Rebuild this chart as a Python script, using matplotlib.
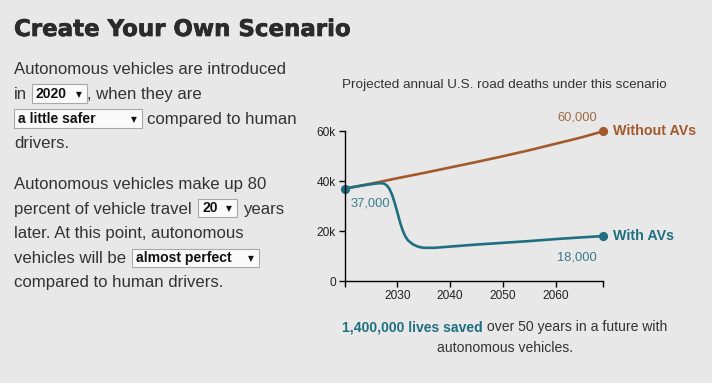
import matplotlib
matplotlib.use('Agg')
import matplotlib.pyplot as plt
from matplotlib.patches import Rectangle
import matplotlib.patheffects as pe

# ---------------- data ----------------
years_without = [2020, 2025, 2030, 2035, 2040, 2045, 2050, 2055, 2060, 2065, 2069]
without_avs = [37000, 39000, 41200, 43300, 45500, 47700, 50000, 52400, 55000, 57600, 60000]

years_with = [2020, 2022, 2024, 2026, 2027, 2027.5, 2028, 2028.5, 2029, 2029.5, 2030,
              2030.5, 2031, 2031.5, 2032, 2033, 2034, 2035, 2037, 2040, 2045, 2050,
              2055, 2060, 2065, 2069]
with_avs = [37000, 37800, 38500, 39100, 39200, 39000, 38300, 36900, 34500, 31200, 27400,
            23500, 20300, 17900, 16300, 14600, 13700, 13300, 13300, 13800, 14600, 15300,
            16000, 16800, 17500, 18000]

y_ticks = [0, 20000, 40000, 60000]
y_tick_labels = ['0', '20k', '40k', '60k']
x_ticks = [2030, 2040, 2050, 2060]
x_range = [2020, 2069]
start_label = '37,000'
end_without_label = '60,000'
end_with_label = '18,000'
lives_saved = '1,400,000 lives saved'

BROWN = '#a35a2c'
TEAL = '#1e6f80'
TXT = '#333333'
BG = '#e8e8e8'

W, H = 712, 383
fig = plt.figure(figsize=(W / 100, H / 100), dpi=100)
fig.patch.set_facecolor(BG)
BODY = 'Liberation Sans'


def fx(x):
    return x / W


def fy(y):
    return 1 - y / H


# ---------------- title ----------------
fig.text(fx(14), fy(36), 'Create Your Own Scenario', family='DejaVu Sans',
         weight='bold', fontsize=16.5, color='#2b2b2b', va='baseline', ha='left',
         path_effects=[pe.withStroke(linewidth=0.5, foreground='#2b2b2b')])

# ---------------- paragraph text ----------------
fs = 12.1


def t(x, y, s, **kw):
    return fig.text(fx(x), fy(y), s, family=BODY, fontsize=fs, color=TXT,
                    va='baseline', ha='left', **kw)


def dropdown(x0, x1, y0, y1, label, base):
    fig.patches.append(Rectangle((fx(x0), fy(y1)), (x1 - x0) / W, (y1 - y0) / H,
                                 transform=fig.transFigure, facecolor='#fafafa',
                                 edgecolor='#a9a9a9', linewidth=0.8))
    fig.text(fx(x0 + 4), fy(base), label, family=BODY, weight='bold', fontsize=10.1,
             color='#111111', va='baseline', ha='left')
    fig.text(fx(x1 - 8), fy(base - 1), '\u25BC', family='DejaVu Sans', fontsize=5.5,
             color='#111111', va='baseline', ha='center')


t(14, 74, 'Autonomous vehicles are introduced')
t(14, 99, 'in')
dropdown(32, 87, 84, 103, '2020', 98)
t(87, 99, ', when they are')
dropdown(14, 142, 109, 128, 'a little safer', 123)
t(147, 124, 'compared to human')
t(14, 148, 'drivers.')

t(14, 189, 'Autonomous vehicles make up 80')
t(14, 214, 'percent of vehicle travel')
dropdown(198, 237, 199, 217, '20', 212)
t(243, 214, 'years')
t(14, 238, 'later. At this point, autonomous')
t(14, 263, 'vehicles will be')
dropdown(132, 259, 249, 267, 'almost perfect', 262)
t(14, 287, 'compared to human drivers.')

# ---------------- chart ----------------
fig.text(fx(504), fy(88), 'Projected annual U.S. road deaths under this scenario',
         family=BODY, fontsize=9.7, color=TXT, ha='center', va='baseline')

ax = fig.add_axes([fx(344.7), fy(281), (603 - 344.7) / W, (281 - 131.3) / H])
ax.patch.set_alpha(0)
ax.set_xlim(*x_range)
ax.set_ylim(0, 60000)
for s in ['top', 'right']:
    ax.spines[s].set_visible(False)
for s in ['left', 'bottom']:
    ax.spines[s].set_linewidth(1.0)
    ax.spines[s].set_color('black')

ax.set_yticks(y_ticks)
ax.set_yticklabels(y_tick_labels)
ax.set_xticks(x_ticks)
ax.set_xticklabels([str(v) for v in x_ticks])
ax.set_xticks(x_range, minor=True)
ax.tick_params(which='both', direction='out', length=4.3, width=1.0, color='black',
               labelsize=8.6, labelcolor='#222222', pad=2)
for lab in ax.get_xticklabels() + ax.get_yticklabels():
    lab.set_family(BODY)

ax.plot(years_without, without_avs, color=BROWN, lw=1.9, clip_on=False,
        solid_capstyle='round')
ax.plot(years_with, with_avs, color=TEAL, lw=1.9, clip_on=False,
        solid_capstyle='round', solid_joinstyle='round')
ax.plot([years_without[-1]], [without_avs[-1]], 'o', color=BROWN, ms=5.6, clip_on=False)
ax.plot([years_with[-1]], [with_avs[-1]], 'o', color=TEAL, ms=5.6, clip_on=False)
ax.plot([years_with[0]], [with_avs[0]], 'o', color=TEAL, ms=5.6, clip_on=False)

lab_fs = 9.3
ax.annotate(end_without_label, (years_without[-1], without_avs[-1]),
            xytext=(-6, 14), textcoords='offset pixels', ha='right', va='center',
            fontsize=lab_fs, family=BODY, color='#a06a45')
ax.annotate('Without AVs', (years_without[-1], without_avs[-1]),
            xytext=(10, 0), textcoords='offset pixels', ha='left', va='center',
            fontsize=10.3, family=BODY, weight='bold', color=BROWN)
ax.annotate('With AVs', (years_with[-1], with_avs[-1]),
            xytext=(10, 0), textcoords='offset pixels', ha='left', va='center',
            fontsize=10.3, family=BODY, weight='bold', color=TEAL)
ax.annotate(end_with_label, (years_with[-1], with_avs[-1]),
            xytext=(-6, -21), textcoords='offset pixels', ha='right', va='center',
            fontsize=lab_fs, family=BODY, color='#3b7b8a')
ax.annotate(start_label, (years_with[0], with_avs[0]),
            xytext=(6, -15), textcoords='offset pixels', ha='left', va='center',
            fontsize=lab_fs, family=BODY, color='#3b7b8a')

# ---------------- footer ----------------
fig.canvas.draw()
r = fig.canvas.get_renderer()
b = fig.text(0, fy(331), lives_saved, family=BODY, weight='bold', fontsize=10.1,
             color=TEAL, ha='left', va='baseline')
n = fig.text(0, fy(331), ' over 50 years in a future with', family=BODY,
             fontsize=10.1, color=TXT, ha='left', va='baseline')
wb = b.get_window_extent(r).width
wn = n.get_window_extent(r).width
x0 = 505 - (wb + wn) / 2
b.set_x(fx(x0))
n.set_x(fx(x0 + wb))
fig.text(fx(505), fy(352), 'autonomous vehicles.', family=BODY, fontsize=10.1,
         color=TXT, ha='center', va='baseline')

fig.savefig('out.png', dpi=100, facecolor=BG)
